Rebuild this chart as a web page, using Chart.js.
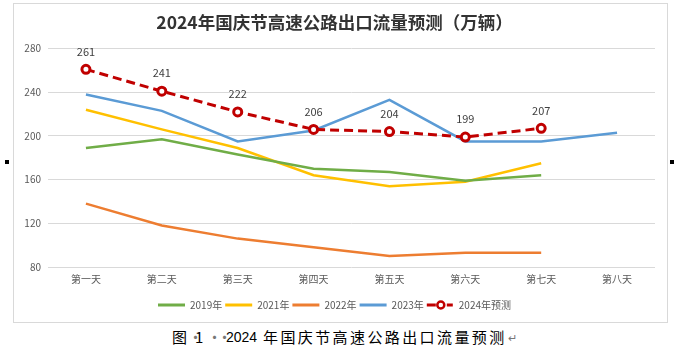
<!DOCTYPE html>
<html>
<head>
<meta charset="utf-8">
<script src="https://cdn.jsdelivr.net/npm/chart.js@4.4.1/dist/chart.umd.min.js"></script>
<style>
  body { margin: 0; background: #fff; width: 675px; height: 354px; position: relative; overflow: hidden; }
  #box { position: absolute; left: 13px; top: 3px; width: 655px; height: 320px; border: 1px solid #d9d9d9; box-sizing: border-box; }
  #box canvas { position: absolute; left: 0; top: 0; }
  .handle { position: absolute; width: 4px; height: 4px; background: #000; top: 160px; }
  .cap { position: absolute; top: 329px; font: 15px/16px "Noto Sans CJK SC", sans-serif; color: #000; white-space: nowrap; }
  .dot { color: #777; }
</style>
</head>
<body>
<div id="box"><canvas id="myChart" width="653" height="318"></canvas></div>
<div class="handle" style="left:5px"></div>
<div class="handle" style="left:670px"></div>
<span class="cap" style="left:172px">图</span>
<span class="cap dot" style="left:188px">·</span>
<span class="cap" style="left:195px">1</span>
<span class="cap dot" style="left:207px">·</span>
<span class="cap dot" style="left:217px">·</span>
<span class="cap" style="left:226px;font-family:'Liberation Sans',sans-serif;font-size:14px">2024</span>
<span class="cap" style="left:263px;letter-spacing:2.4px">年国庆节高速公路出口流量预测</span>
<span class="cap dot" style="left:508px;font-size:11px">↵</span>
<script>
const days = ['第一天', '第二天', '第三天', '第四天', '第五天', '第六天', '第七天', '第八天'];
const y2019 = [189, 197, 183, 170, 167, 159, 164, null];
const y2021 = [224, 206, 189, 164, 154, 158, 175, null];
const y2022 = [138, 118, 106, 98, 90, 93, 93, null];
const y2023 = [238, 223, 195, 205, 233, 195, 195, 203];
const y2024 = [261, 241, 222, 206, 204, 199, 207, null];
const yTicks = [80, 120, 160, 200, 240, 280];

const FONT = '"Noto Sans CJK SC", "Noto Sans", sans-serif';
const RED = '#c00000';

function line(label, data, color) {
  return {
    label: label, data: data,
    borderColor: color, backgroundColor: color,
    borderWidth: 2.5, pointRadius: 0, tension: 0
  };
}

// numbers above the forecast points + legend sample for the dashed series
const extras = {
  id: 'extras',
  afterDatasetsDraw(chart) {
    const ctx = chart.ctx;
    const meta = chart.getDatasetMeta(4);
    ctx.save();
    ctx.font = '11px ' + FONT;
    ctx.fillStyle = '#404040';
    ctx.textAlign = 'center';
    ctx.textBaseline = 'middle';
    meta.data.forEach((pt, i) => {
      if (y2024[i] == null) return;
      ctx.fillText(String(y2024[i]), pt.x, pt.y - 18);
    });
    ctx.restore();
  },
  afterDraw(chart) {
    const hb = chart.legend.legendHitBoxes[4];
    if (!hb) return;
    const ctx = chart.ctx;
    const cy = hb.top + 5;
    const x = hb.left;
    ctx.save();
    ctx.strokeStyle = RED;
    ctx.lineWidth = 3;
    ctx.beginPath();
    ctx.moveTo(x, cy); ctx.lineTo(x + 9, cy);
    ctx.moveTo(x + 20, cy); ctx.lineTo(x + 26, cy);
    ctx.stroke();
    ctx.beginPath();
    ctx.arc(x + 14, cy, 3.5, 0, Math.PI * 2);
    ctx.fillStyle = '#fff';
    ctx.fill();
    ctx.lineWidth = 2.5;
    ctx.stroke();
    ctx.restore();
  }
};

const ctx = document.getElementById('myChart');
const chart = new Chart(ctx, {
  type: 'line',
  data: {
    labels: days,
    datasets: [
      line('2019年', y2019, '#70ad47'),
      line('2021年', y2021, '#ffc000'),
      line('2022年', y2022, '#ed7d31'),
      line('2023年', y2023, '#5b9bd5'),
      {
        label: '2024年预测', data: y2024,
        borderColor: RED, backgroundColor: 'rgba(0,0,0,0)',
        borderWidth: 3, borderDash: [9, 5], tension: 0,
        pointRadius: 4, pointBorderWidth: 3,
        pointBackgroundColor: '#fff', pointBorderColor: RED,
        order: -1
      }
    ]
  },
  options: {
    responsive: false,
    animation: false,
    layout: { padding: { left: 0, right: 12, top: 0, bottom: 2 } },
    scales: {
      x: {
        offset: true,
        grid: { display: false, drawTicks: false },
        border: { display: false },
        ticks: { padding: 6, color: '#595959', font: { size: 10, family: FONT } },
        afterFit: s => { s.height += 6; }
      },
      y: {
        min: 80, max: 280,
        afterBuildTicks: s => { s.ticks = yTicks.map(v => ({ value: v })); },
        grid: { color: '#d9d9d9', lineWidth: 1, drawTicks: false },
        border: { display: false },
        ticks: { padding: 7, color: '#595959', font: { size: 10, family: FONT } },
        afterFit: s => { s.width = 34; }
      }
    },
    plugins: {
      title: {
        display: true,
        text: '2024年国庆节高速公路出口流量预测（万辆）',
        color: '#333',
        font: { size: 17.5, weight: 'bold', family: FONT },
        padding: { top: 7.8, bottom: 15.8 }
      },
      legend: {
        position: 'bottom',
        labels: {
          boxWidth: 27, boxHeight: 3, padding: 3,
          color: '#595959',
          font: { size: 10, family: FONT },
          sort: (a, b) => a.datasetIndex - b.datasetIndex,
          generateLabels: c => Chart.defaults.plugins.legend.labels.generateLabels(c).map(it => {
            it.lineWidth = 0;
            it.lineDash = [];
            return it;
          })
        }
      },
      tooltip: { enabled: false }
    }
  },
  plugins: [extras]
});
</script>
</body>
</html>
